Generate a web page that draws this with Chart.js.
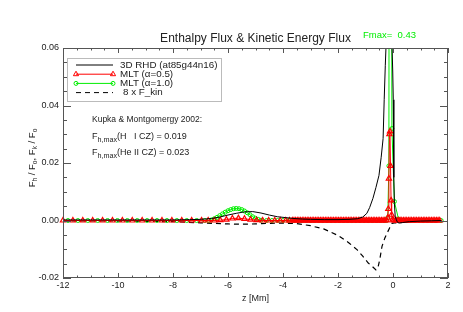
<!DOCTYPE html>
<html>
<head>
<meta charset="utf-8">
<script src="https://cdn.jsdelivr.net/npm/chart.js@4.4.0/dist/chart.umd.min.js"></script>
<style>
    html, body { margin: 0; padding: 0; background: #fff; }
</style>
</head>
<body>
<canvas id="chart" width="463" height="312"></canvas>
<script>
// 3D RHD (at85g44n16)
const rhdZ = [-12, -11, -10, -9, -8, -7.4, -7.0, -6.6, -6.3, -6.0, -5.7, -5.4, -5.1, -4.8, -4.5,
    -4.2, -3.9, -3.6, -3.3, -3.0, -2.5, -2.0, -1.6, -1.3, -1.1, -0.95, -0.85, -0.73, -0.62, -0.51,
    -0.43, -0.36, -0.32, -0.28, -0.24, -0.2, -0.16, -0.12, -0.08, -0.04, -0.01, 0.01, 0.03, 0.05, 0.08,
    0.12, 0.16, 0.22, 0.35, 0.6, 1.0, 1.4, 1.75];
const rhdF = [0.0002, 0.0002, 0.0002, 0.0002, 0.0002, 0.0003, 0.0004, 0.0007, 0.0012, 0.0019,
    0.0025, 0.003, 0.0031, 0.0026, 0.0019, 0.0013, 0.001, 0.0007, 0.0005, 0.0004,
    0.0003, 0.0003, 0.0004, 0.0006, 0.0012, 0.0025, 0.0045, 0.0077, 0.0115, 0.0157,
    0.022, 0.0285, 0.042, 0.054, 0.064, 0.071, 0.075, 0.074, 0.07, 0.062,
    0.052, 0.042, 0.015, 0.006, 0.0015, 0.0003, -0.0006, -0.0009, -0.0007, -0.0004,
    -0.0002, -0.0001, 0];

// MLT (alpha = 0.5) - fine grid near the surface
const mlt05Z = [-12.0, -11.64, -11.28, -10.92, -10.56, -10.2, -9.84, -9.48, -9.12, -8.76, -8.4, -8.04, -7.68, -7.32, -6.96,
    -6.72, -6.5, -6.28, -6.06, -5.84, -5.62, -5.4, -5.18, -4.96, -4.74, -4.52, -4.3, -4.1, -3.9, -3.76,
    -3.66, -3.6, -3.54, -3.48, -3.42, -3.36, -3.3, -3.24, -3.18, -3.12, -3.06, -3.0, -2.94, -2.88, -2.82,
    -2.76, -2.7, -2.64, -2.58, -2.52, -2.46, -2.4, -2.34, -2.28, -2.22, -2.16, -2.1, -2.04, -1.98, -1.92,
    -1.86, -1.8, -1.74, -1.68, -1.62, -1.56, -1.5, -1.44, -1.38, -1.32, -1.26, -1.2, -1.14, -1.08, -1.02,
    -0.96, -0.9, -0.84, -0.78, -0.72, -0.66, -0.6, -0.54, -0.48, -0.42, -0.36, -0.3, -0.24,
    -0.19, -0.17, -0.15, -0.13, -0.11, -0.09, -0.07, -0.05, -0.02,
    0.02, 0.08, 0.14, 0.2, 0.26, 0.32, 0.38, 0.44, 0.5, 0.56, 0.62, 0.68, 0.74, 0.8, 0.86,
    0.92, 0.98, 1.04, 1.1, 1.16, 1.22, 1.28, 1.34, 1.4, 1.46, 1.52, 1.58, 1.64, 1.7];
const mlt05F = [0, 0, 0, 0, 0, 0, 0, 0, 0, 0, 0, 0, 0, 0, 0,
    0, 0, 0.0001, 0.0003, 0.0007, 0.0008, 0.0006, 0.0003, 0.0001, 0, 0, 0, 0, 0, 0,
    0, 0, 0, 0, 0, 0, 0, 0, 0, 0, 0, 0, 0, 0, 0,
    0, 0, 0, 0, 0, 0, 0, 0, 0, 0, 0, 0, 0, 0, 0,
    0, 0, 0, 0, 0, 0, 0, 0, 0, 0, 0, 0, 0, 0, 0,
    0, 0, 0, 0, 0, 0, 0, 0, 0, 0, 0, 0, 0,
    0.001, 0.004, 0.0146, 0.03, 0.031, 0.019, 0.007, 0.002, 0.0003,
    0, 0, 0, 0, 0, 0, 0, 0, 0, 0, 0, 0, 0, 0, 0,
    0, 0, 0, 0, 0, 0, 0, 0, 0, 0, 0, 0, 0, 0];

// MLT (alpha = 1.0)
const mlt10Z = [-11.82, -11.46, -11.1, -10.74, -10.38, -10.02, -9.66, -9.3, -8.94, -8.58, -8.22, -7.86, -7.5, -7.14, -6.85,
    -6.7, -6.6, -6.5, -6.4, -6.3, -6.2, -6.1, -6.0, -5.9, -5.8, -5.7, -5.6, -5.5, -5.4, -5.3, -5.2, -5.1, -5.0, -4.9, -4.8,
    -4.6, -4.4, -4.2, -4.0, -3.8, -3.6, -3.45, -3.3, -3.15, -3.0, -2.85, -2.7, -2.55, -2.4, -2.25, -2.1, -1.95,
    -1.8, -1.65, -1.5, -1.35, -1.2, -1.05, -0.9, -0.75, -0.6, -0.45, -0.32,
    -0.24, -0.19, -0.15, -0.1, -0.04,
    0.05, 0.2, 0.35, 0.5, 0.65, 0.8, 0.95, 1.1, 1.25, 1.4, 1.55, 1.75];
const mlt10F = [0, 0, 0, 0, 0, 0, 0, 0, 0, 0, 0, 0, 0, 0, 0,
    0, 0.0002, 0.0006, 0.0011, 0.0017, 0.0023, 0.0029, 0.0034, 0.0038, 0.0041, 0.0042, 0.0041, 0.0038, 0.0033, 0.0027, 0.002, 0.0013, 0.0008, 0.0004, 0.0001,
    0, 0, 0, 0, 0, 0, 0, 0, 0, 0, 0, 0, 0, 0, 0, 0, 0,
    0, 0, 0, 0, 0, 0, 0, 0, 0, 0, 0, 0,
    0.001, 0.019, 0.43, 0.032, 0.0066,
    0.0005, 0, 0, 0, 0, 0, 0, 0, 0, 0, 0, 0];

// 8 x F_kin
const kinZ = [-12, -11, -10, -9, -8, -7.5, -7, -6.5, -6, -5.5, -5, -4.5, -4, -3.5, -3, -2.5, -2,
    -1.6, -1.3, -1.1, -0.9, -0.75, -0.62, -0.55, -0.48, -0.4, -0.3, -0.22, -0.12, -0.04,
    0.05, 0.2, 0.5, 0.9, 1.3, 1.75];
const kinF = [-0.0001, -0.0001, -0.0002, -0.0003, -0.0004, -0.0006, -0.0008, -0.001, -0.0012, -0.0013,
    -0.0012, -0.001, -0.0009, -0.0011, -0.0018, -0.003, -0.0052, -0.0078, -0.0102, -0.0124,
    -0.0148, -0.016, -0.0172, -0.0165, -0.0135, -0.009, -0.0062, -0.0045, -0.0025, -0.001,
    -0.0008, -0.0008, -0.0005, -0.0003, -0.0001, 0];

const xMin = -12, xMax = 2, yMin = -0.02, yMax = 0.06;
const FONT = "'Liberation Sans', Arial, Helvetica, sans-serif";
const RED = '#ff0000', GREEN = '#00ee00', INK = '#222';

Chart.defaults.font.family = FONT;

function pts(z, f) {
    return z.map((v, i) => ({ x: v, y: f[i] }));
}

// draws text pieces, some as subscripts; returns the width
function drawParts(ctx, parts, x, y, size, subScale, measureOnly) {
    let cx = x;
    for (const [txt, sub] of parts) {
        ctx.font = (sub ? size * subScale : size) + 'px ' + FONT;
        if (!measureOnly) ctx.fillText(txt, cx, sub ? y + size * 0.3 : y);
        cx += ctx.measureText(txt).width;
    }
    return cx - x;
}

function triangle(ctx, x, y, r) {
    ctx.beginPath();
    ctx.moveTo(x, y - r);
    ctx.lineTo(x + r * 0.866, y + r * 0.5);
    ctx.lineTo(x - r * 0.866, y + r * 0.5);
    ctx.closePath();
    ctx.stroke();
}

function circle(ctx, x, y, r) {
    ctx.beginPath();
    ctx.arc(x, y, r, 0, Math.PI * 2);
    ctx.stroke();
}

const framePlugin = {
    id: 'frame',
    afterDatasetsDraw(chart) {
        const ctx = chart.ctx;
        const a = chart.chartArea;
        const xs = chart.scales.x, ys = chart.scales.y;
        ctx.save();
        ctx.strokeStyle = '#555';
        ctx.lineWidth = 1;
        ctx.strokeRect(a.left + 0.5, a.top + 0.5, a.right - a.left - 1, a.bottom - a.top - 1);

        // inward ticks on all four sides
        ctx.beginPath();
        for (let i = 0; i <= (xMax - xMin) / 0.5; i++) {
            const v = xMin + i * 0.5;
            const px = Math.round(xs.getPixelForValue(v)) + 0.5;
            const len = (i % 4 === 0) ? 5 : 2.5;
            ctx.moveTo(px, a.bottom); ctx.lineTo(px, a.bottom - len);
            ctx.moveTo(px, a.top); ctx.lineTo(px, a.top + len);
        }
        for (let i = 0; i <= Math.round((yMax - yMin) / 0.005); i++) {
            const v = yMin + i * 0.005;
            const py = Math.round(ys.getPixelForValue(v)) + 0.5;
            const len = (i % 4 === 0) ? 8 : 4;
            ctx.moveTo(a.left, py); ctx.lineTo(a.left + len, py);
            ctx.moveTo(a.right, py); ctx.lineTo(a.right - len, py);
        }
        ctx.stroke();

        // title
        ctx.fillStyle = INK;
        ctx.textBaseline = 'middle';
        ctx.textAlign = 'center';
        ctx.font = '12px ' + FONT;
        ctx.fillText('Enthalpy Flux & Kinetic Energy Flux', (a.left + a.right) / 2, 39);
        ctx.textAlign = 'left';
        ctx.fillStyle = GREEN;
        ctx.font = '9.5px ' + FONT;
        ctx.fillText('Fmax=  ' + Math.max(...mlt10F).toFixed(2), 363, 35);

        // y axis title, rotated
        ctx.fillStyle = INK;
        const yParts = [['F', 0], ['h', 1], [' / F', 0], ['o', 1], [', F', 0], ['k', 1], [' / F', 0], ['o', 1]];
        const w = drawParts(ctx, yParts, 0, 0, 9.5, 0.7, true);
        ctx.save();
        ctx.translate(32, 158);
        ctx.rotate(-Math.PI / 2);
        drawParts(ctx, yParts, -w / 2, 0, 9.5, 0.7, false);
        ctx.restore();

        // legend box
        ctx.strokeStyle = '#bbb';
        ctx.strokeRect(67.5, 58.5, 154, 43);
        const rows = [
            ['3D RHD (at85g44n16)', '#000', null, []],
            ['MLT (\u03b1=0.5)', RED, 'tri', []],
            ['MLT (\u03b1=1.0)', GREEN, 'circ', []],
            ['8 x F_kin', '#000', null, [5, 4]]
        ];
        rows.forEach((r, i) => {
            const y = 65 + i * 9.2;
            ctx.strokeStyle = r[1];
            ctx.lineWidth = 1;
            ctx.setLineDash(r[3]);
            ctx.beginPath();
            ctx.moveTo(76, y); ctx.lineTo(113, y);
            ctx.stroke();
            ctx.setLineDash([]);
            if (r[2] === 'tri') { triangle(ctx, 76, y, 3); triangle(ctx, 113, y, 3); }
            if (r[2] === 'circ') { circle(ctx, 76, y, 2); circle(ctx, 113, y, 2); }
            ctx.fillStyle = INK;
            ctx.font = '9.8px ' + FONT;
            ctx.fillText(r[0], i === 3 ? 123 : 120, y);
        });

        // Kupka & Montgomery note
        ctx.font = '8.5px ' + FONT;
        ctx.fillText('Kupka & Montgomergy 2002:', 92, 120);
        drawParts(ctx, [['F', 0], ['h,max', 1], ['(H   I CZ) = 0.019', 0]], 92, 137, 9, 0.8, false);
        drawParts(ctx, [['F', 0], ['h,max', 1], ['(He II CZ) = 0.023', 0]], 92, 153, 9, 0.8, false);
        ctx.restore();
    }
};

new Chart(document.getElementById('chart'), {
    type: 'scatter',
    data: {
        datasets: [
            {
                label: '3D RHD (at85g44n16)',
                data: pts(rhdZ, rhdF),
                showLine: true,
                borderColor: '#000',
                borderWidth: 1,
                pointRadius: 0
            },
            {
                label: 'MLT (\u03b1=0.5)',
                data: pts(mlt05Z, mlt05F),
                showLine: true,
                borderColor: RED,
                backgroundColor: 'rgba(0,0,0,0)',
                borderWidth: 1,
                pointStyle: 'triangle',
                pointRadius: 3,
                pointBorderWidth: 1.2
            },
            {
                label: 'MLT (\u03b1=1.0)',
                data: pts(mlt10Z, mlt10F),
                showLine: true,
                borderColor: GREEN,
                backgroundColor: 'rgba(0,0,0,0)',
                borderWidth: 1,
                pointStyle: 'circle',
                pointRadius: 2,
                pointBorderWidth: 1
            },
            {
                label: '8 x F_kin',
                data: pts(kinZ, kinF),
                showLine: true,
                borderColor: '#000',
                borderWidth: 1.2,
                borderDash: [5, 4],
                pointRadius: 0
            }
        ]
    },
    options: {
        responsive: false,
        animation: false,
        clip: { left: 4, top: 0, right: 4, bottom: 4 },
        layout: { padding: { left: 0, right: 15, top: 48, bottom: 0 } },
        plugins: {
            legend: { display: false },
            tooltip: { enabled: false }
        },
        scales: {
            x: {
                type: 'linear',
                min: xMin,
                max: xMax,
                grid: { display: false, drawTicks: false },
                border: { display: false },
                ticks: {
                    stepSize: 2,
                    autoSkip: false,
                    maxRotation: 0,
                    padding: 2,
                    color: INK,
                    font: { size: 9 },
                    callback: v => String(v)
                },
                title: {
                    display: true,
                    text: 'z [Mm]',
                    color: INK,
                    font: { size: 9 },
                    padding: { top: 0, bottom: 8 }
                },
                afterFit: s => { s.height = 34; }
            },
            y: {
                type: 'linear',
                min: yMin,
                max: yMax,
                grid: { display: false, drawTicks: false },
                border: { display: false },
                ticks: {
                    stepSize: 0.02,
                    padding: 4,
                    color: INK,
                    font: { size: 9 },
                    callback: v => v.toFixed(2)
                },
                afterFit: s => { s.width = 63; }
            }
        }
    },
    plugins: [framePlugin]
});
</script>
</body>
</html>
